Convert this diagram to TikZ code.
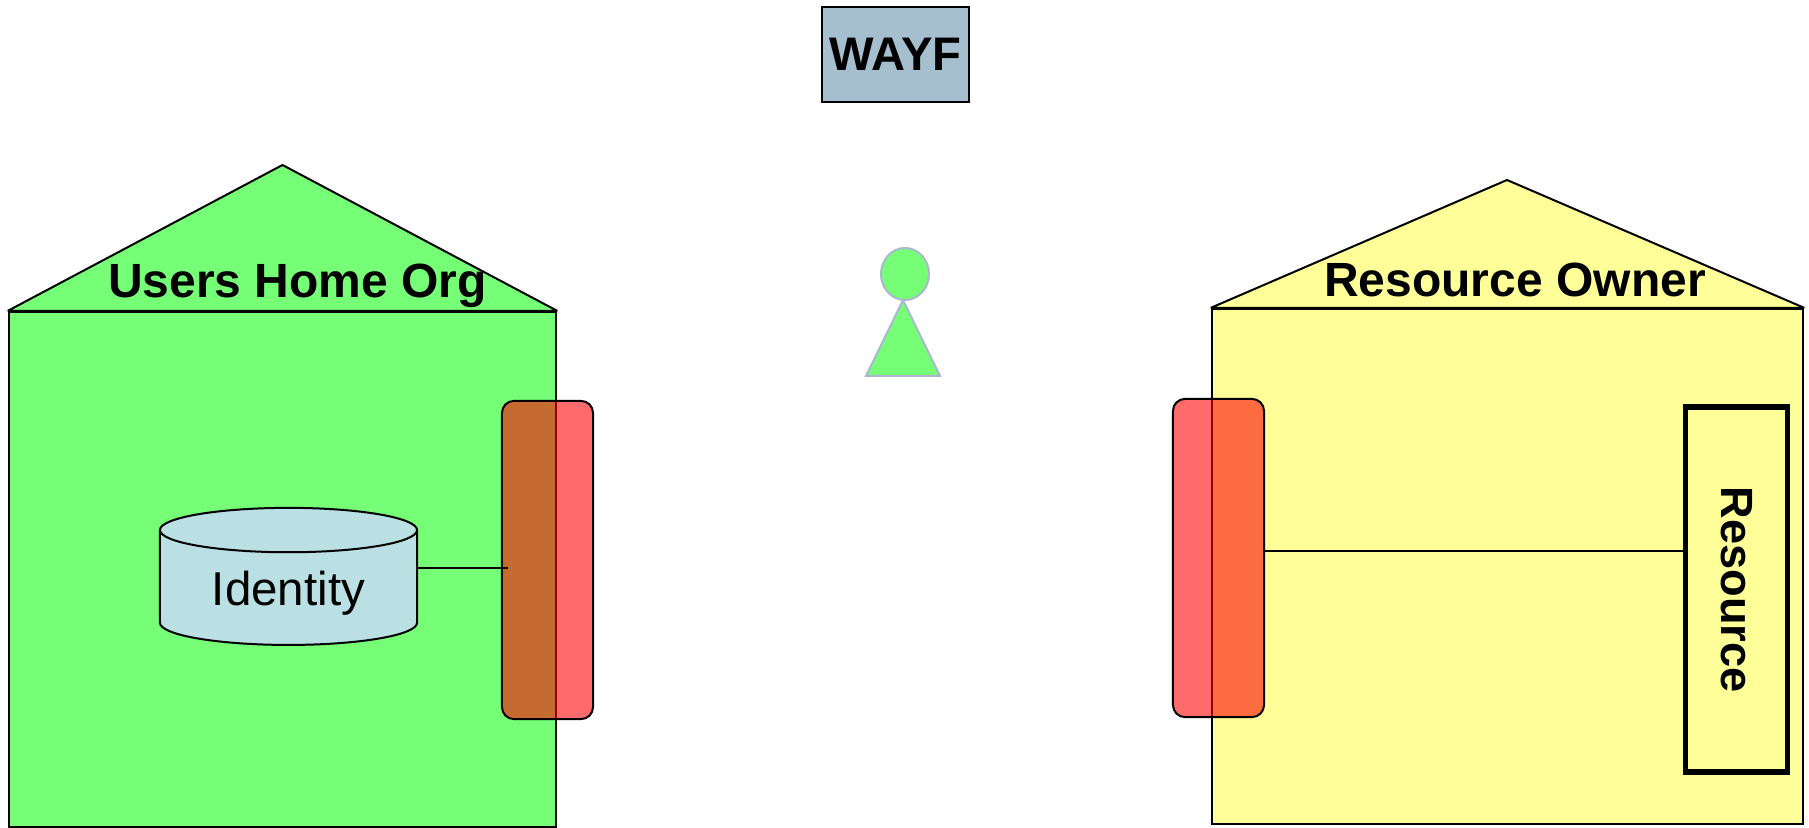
\documentclass[tikz,border=0pt]{standalone}
\usepackage{fontspec}
\setmainfont{Liberation Sans}
\usetikzlibrary{shapes.geometric}

\definecolor{homegreen}{HTML}{76FF76}
\definecolor{owneryellow}{HTML}{FFFF99}
\definecolor{wayfblue}{HTML}{A6BFCE}
\definecolor{storeblue}{HTML}{BAE0E3}
\definecolor{persongrey}{HTML}{A9B8D0}

\tikzset{
  wall/.style={draw, line width=0.02cm, inner sep=0pt},
  gate/.style={draw, line width=0.02cm, fill=red, fill opacity=0.58, draw opacity=1,
    rounded corners=0.12cm, inner sep=0pt, minimum width=0.91cm},
  title/.style={anchor=base, font=\fontsize{13.65}{16}\selectfont\bfseries},
  link/.style={line width=0.02cm, line join=bevel},
  person/.style={draw=persongrey, line width=0.02cm, fill=homegreen},
}

\begin{document}
\begin{tikzpicture}[x=0.01cm, y=-0.01cm]
  \useasboundingbox (0,0) rectangle (1809,828);

  % left house
  \node [wall, fill=homegreen, minimum width=5.47cm, minimum height=5.15cm] (home) at (282.5,569.5) {};
  \coordinate (homeapex) at (282.5,165);
  \filldraw [link, fill=homegreen] (home.north west) -- (homeapex) -- (home.north east) -- cycle;
  \node [title] (hometitle) at (297.5,298) {Users Home Org};
  \node [draw, line width=0.02cm, fill=storeblue, cylinder, shape border rotate=90, shape aspect=0.29,
    minimum width=2.57cm, minimum height=1.37cm, inner sep=0pt,
    font=\fontsize{13.5}{16}\selectfont] (store) at (288.5,588) {\raisebox{-0.17cm}[0pt][0pt]{Identity}};
  \node [gate, minimum height=3.18cm] (homegate) at (547.5,560) {};

  % right house
  \node [wall, fill=owneryellow, minimum width=5.91cm, minimum height=5.15cm] (owner) at (1507.5,566.5) {};
  \coordinate (ownerapex) at (1507,180);
  \filldraw [link, fill=owneryellow] (owner.north west) -- (ownerapex) -- (owner.north east) -- cycle;
  \node [title] (ownertitle) at (1515,297) {Resource Owner};
  \node [draw, line width=0.055cm, rotate=-90, inner sep=0pt, minimum width=3.65cm, minimum height=1.02cm,
    font=\fontsize{12.85}{15}\selectfont\bfseries] (resource) at (1736.5,589.5) {Resource};
  \node [gate, minimum height=3.18cm] (ownergate) at (1218.5,558) {};

  % top and middle
  \node [draw, line width=0.025cm, fill=wayfblue, inner sep=0pt, minimum width=1.47cm, minimum height=0.95cm,
    font=\fontsize{13.4}{15}\selectfont\bfseries] (wayf) at (895.5,54.5) {WAYF};
  \coordinate (bodytop) at (903,300);
  \coordinate (bodyleft) at (866,376);
  \coordinate (bodyright) at (940,376);
  \filldraw [person] (bodytop) -- (bodyleft) -- (bodyright) -- cycle;
  \node [person, ellipse, inner sep=0pt, minimum width=0.48cm, minimum height=0.52cm] (head) at (905,274) {};

  % connectors
  \coordinate (homelink) at (0,568);
  \draw [link] (store.east |- homelink) -- ([xshift=0.07cm]homegate.west |- homelink);
  \draw [link] ([yshift=0.07cm]ownergate.east) -- ([yshift=0.07cm,xshift=0.05cm]ownergate.east -| resource.south);
\end{tikzpicture}
\end{document}
